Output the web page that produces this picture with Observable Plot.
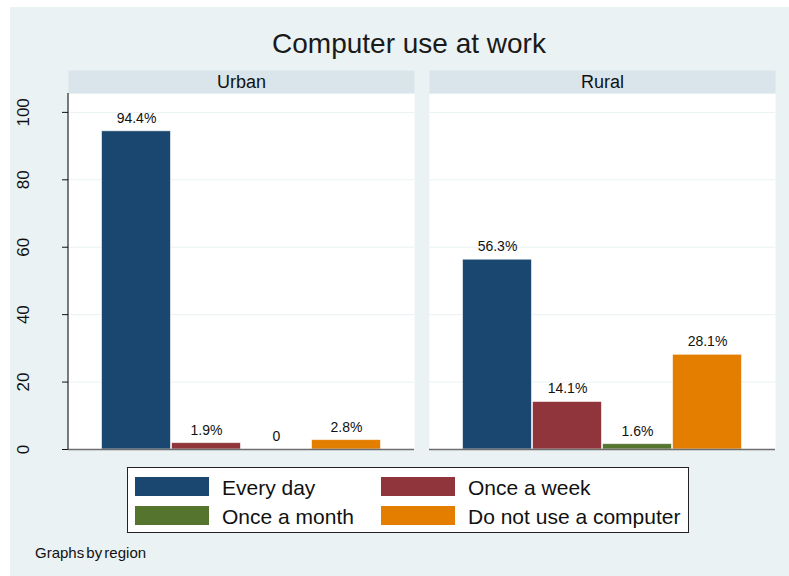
<!DOCTYPE html>
<html>
<head>
<meta charset="utf-8">
<script src="https://cdn.jsdelivr.net/npm/d3@7"></script>
<script src="https://cdn.jsdelivr.net/npm/@observablehq/plot@0.6"></script>
<style>
  html, body { margin: 0; padding: 0; background: #ffffff; }
  body { width: 789px; height: 576px; position: relative; overflow: hidden;
         font-family: "Liberation Sans", Arial, sans-serif; }
  #bg { position: absolute; left: 10px; top: 7px; width: 779px; height: 569px; background: #EAF2F3; }
  #title { position: absolute; left: 0; width: 818px; top: 26px; text-align: center;
           font-size: 28px; color: #1a1a1a; line-height: 36px; }
  #chart { position: absolute; left: 0; top: 70px; }
  #legend { position: absolute; left: 127px; top: 467px; width: 560px; height: 64px;
            background: #fff; border: 1px solid #222; }
  .sw { position: absolute; width: 74px; height: 19px; }
  .lt { position: absolute; font-size: 21px; color: #111; line-height: 24px; white-space: nowrap; }
  #caption { position: absolute; left: 35px; top: 543px; font-size: 15px; color: #111; line-height: 20px; word-spacing: -2px; }
</style>
</head>
<body>
<div id="bg"></div>
<div id="title">Computer use at work</div>
<div id="chart"></div>
<div id="legend"></div>
<div id="caption">Graphs by region</div>
<script>
const regions = ["Urban", "Rural"];
const categories = ["Every day", "Once a week", "Once a month", "Do not use a computer"];
const urbanValues = [94.4, 1.9, 0, 2.8];
const ruralValues = [56.3, 14.1, 1.6, 28.1];
const colors = ["#1a476f", "#90353b", "#55752f", "#e37e00"];
const yTicks = [0, 20, 40, 60, 80, 100];

const rows = [];
regions.forEach((r, ri) => {
  const vals = ri === 0 ? urbanValues : ruralValues;
  categories.forEach((c, ci) => rows.push({region: r, category: c, value: vals[ci]}));
});
const fmt = v => v === 0 ? "0" : v.toFixed(1) + "%";

const chart = Plot.plot({
  width: 789,
  height: 391,
  marginTop: 23,
  marginBottom: 12,
  marginLeft: 68,
  marginRight: 14,
  style: {fontFamily: "'Liberation Sans', Arial, sans-serif", background: "transparent", color: "#111"},
  fx: {domain: regions, paddingInner: 15 / 361, paddingOuter: 0, axis: null, label: null},
  x: {domain: categories, paddingInner: 0, paddingOuter: 0.44, axis: null, label: null},
  y: {domain: [0, 105.6], label: null},
  color: {domain: categories, range: colors},
  marks: [
    Plot.frame({fill: "white", stroke: null}),
    Plot.frame({fill: "#D9E5EA", stroke: null, insetTop: -23, insetBottom: 356}),
    Plot.text(regions, {fx: d => d, text: d => d, frameAnchor: "top", dy: -11.5, lineAnchor: "middle", fontSize: 18, fill: "#111"}),
    Plot.gridY(yTicks.filter(d => d > 0), {stroke: "#EAF2F3", strokeOpacity: 1, strokeWidth: 1}),
    Plot.barY(rows, {fx: "region", x: "category", y: "value", fill: "category",
                     stroke: "#ffffff", strokeOpacity: 0.6, strokeWidth: 1, insetLeft: 0.5, insetRight: 0.5}),
    Plot.ruleY([0], {stroke: "#6e6e6e", strokeWidth: 1.5}),
    Plot.text(rows, {fx: "region", x: "category", y: "value", text: d => fmt(d.value),
                     dy: -13, lineAnchor: "middle", fontSize: 14, fill: "#111"}),
    Plot.axisY({ticks: yTicks, tickSize: 6, tickRotate: -90, tickPadding: 34, fontSize: 17,
                tickFormat: d => String(d), label: null, stroke: "#111"}),
    Plot.rect(["Urban"], {fx: d => d, y1: 0, y2: 105.6, fill: "#000", insetLeft: -0.5, insetRight: 345.5})
  ]
});
document.getElementById("chart").appendChild(chart);

// Legend built from the category / colour arrays
const legend = document.getElementById("legend");
const swX = [7, 253], txtX = [94, 340], swY = [9, 38], txtY = [8, 37];
categories.forEach((c, i) => {
  const col = i % 2, row = Math.floor(i / 2);
  const sw = document.createElement("div");
  sw.className = "sw";
  sw.style.left = swX[col] + "px";
  sw.style.top = swY[row] + "px";
  sw.style.background = colors[i];
  legend.appendChild(sw);
  const t = document.createElement("div");
  t.className = "lt";
  t.style.left = txtX[col] + "px";
  t.style.top = txtY[row] + "px";
  t.textContent = c;
  legend.appendChild(t);
});
</script>
</body>
</html>
